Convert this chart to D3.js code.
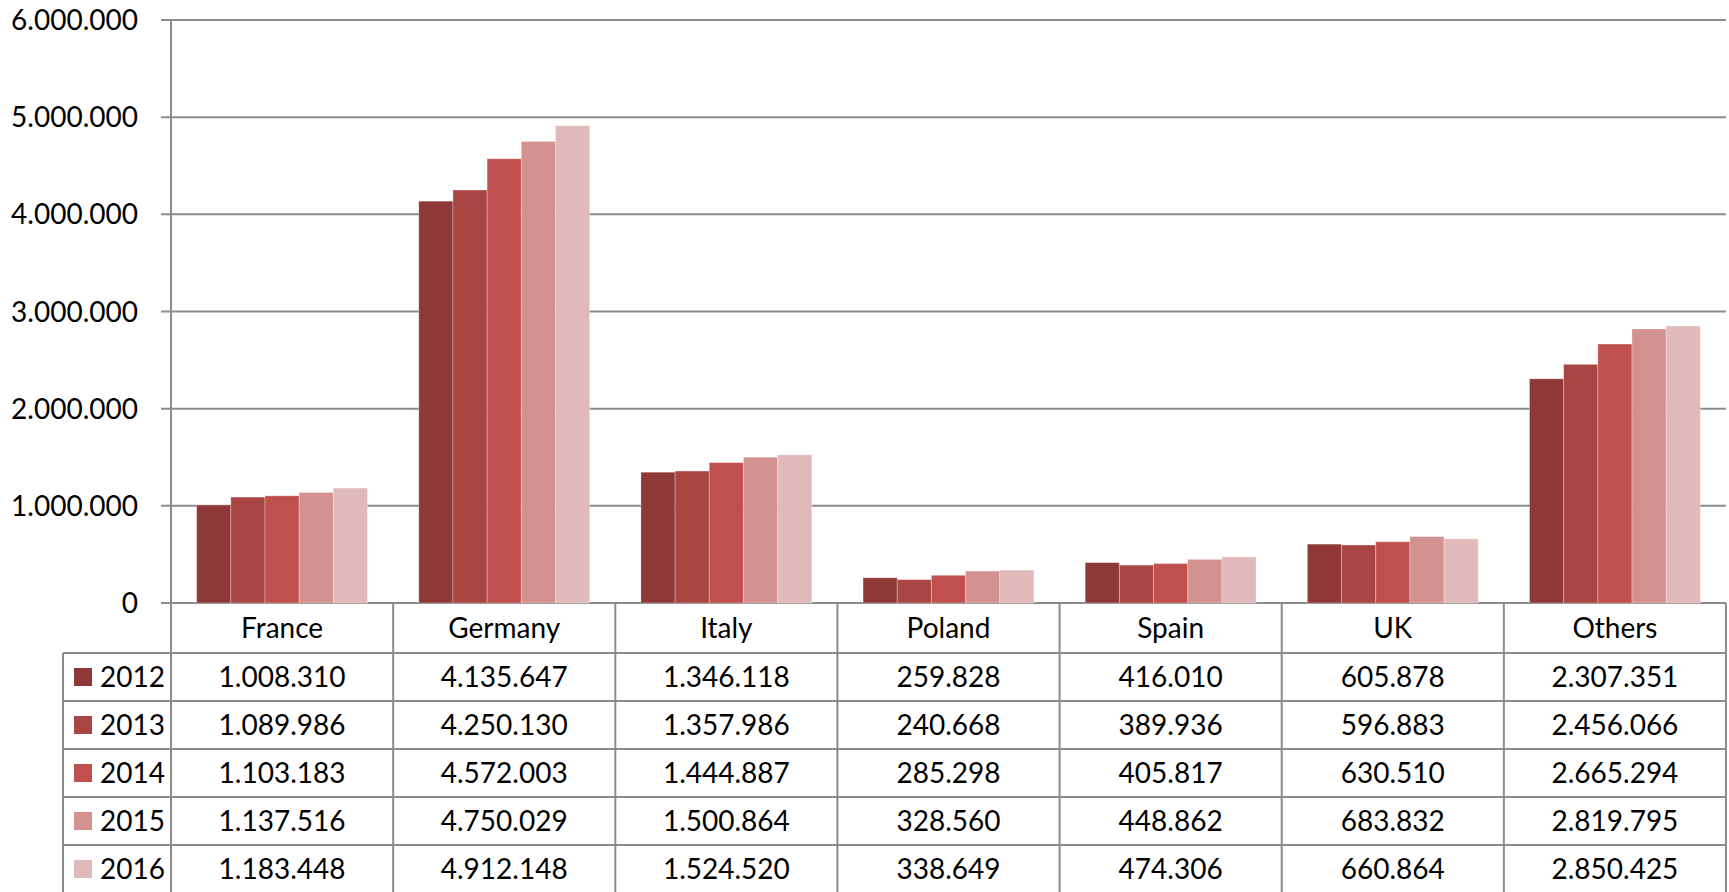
<!DOCTYPE html>
<html>
<head>
<meta charset="utf-8">
<script src="https://cdn.jsdelivr.net/npm/d3@7"></script>
<style>
  body { margin: 0; background: #fff; }
  svg { display: block; font-family: Lato, "Open Sans", sans-serif; }
</style>
</head>
<body>
<script>
// data
var countries = ["France", "Germany", "Italy", "Poland", "Spain", "UK", "Others"];
var years = ["2012", "2013", "2014", "2015", "2016"];
var v2012 = [1008310, 4135647, 1346118, 259828, 416010, 605878, 2307351];
var v2013 = [1089986, 4250130, 1357986, 240668, 389936, 596883, 2456066];
var v2014 = [1103183, 4572003, 1444887, 285298, 405817, 630510, 2665294];
var v2015 = [1137516, 4750029, 1500864, 328560, 448862, 683832, 2819795];
var v2016 = [1183448, 4912148, 1524520, 338649, 474306, 660864, 2850425];
var yTicks = [0, 1000000, 2000000, 3000000, 4000000, 5000000, 6000000];
var colors = ["#8e3937", "#a94543", "#c0504d", "#d39190", "#e0baba"];

var series = [v2012, v2013, v2014, v2015, v2016];

var W = 1729, H = 892;
var plotL = 171, plotR = 1726, plotT = 20, base = 603;
var rowH = 48, catH = 50, legL = 63;
var gridCol = "#8c8c8c";
var fs = "28px";

var fmt = function (n) { return d3.format(",")(n).replace(/,/g, "."); };

var svg = d3.select("body").append("svg")
  .attr("width", W).attr("height", H);

var x = d3.scaleBand().domain(countries).range([plotL, plotR]);
// gap width 150% -> bars take 5/(5+1.5) of the band
var inner = x.bandwidth() * 5 / 6.5;
var x1 = d3.scaleBand().domain(years).range([0, inner]);
var y = d3.scaleLinear().domain([0, 6000000]).range([base, plotT]);

// gridlines
svg.append("g").selectAll("line")
  .data(yTicks)
  .enter().append("line")
  .attr("x1", plotL - 10).attr("x2", plotR)
  .attr("y1", function (d) { return y(d); })
  .attr("y2", function (d) { return y(d); })
  .attr("stroke", gridCol).attr("stroke-width", 2);

// y labels
svg.append("g").selectAll("text")
  .data(yTicks)
  .enter().append("text")
  .attr("x", 138)
  .attr("y", function (d) { return y(d); })
  .attr("dy", "0.36em")
  .attr("text-anchor", "end")
  .style("font-size", fs)
  .text(function (d) { return fmt(d); });

// bars
var groups = svg.append("g").selectAll("g")
  .data(series)
  .enter().append("g")
  .attr("fill", function (d, i) { return colors[i]; });

groups.selectAll("rect")
  .data(function (d, i) { return d.map(function (v, j) { return { v: v, c: countries[j], yr: years[i] }; }); })
  .enter().append("rect")
  .attr("x", function (d) { return x(d.c) + (x.bandwidth() - inner) / 2 + x1(d.yr); })
  .attr("width", x1.bandwidth())
  .attr("y", function (d) { return y(d.v); })
  .attr("height", function (d) { return base - y(d.v); })
  .attr("stroke", "rgba(255,255,255,0.3)")
  .attr("stroke-width", 1);

// table
var tableBottom = base + catH + rowH * years.length;
var t = svg.append("g");

// axis line / vertical borders
t.append("line").attr("x1", plotL).attr("x2", plotL).attr("y1", plotT).attr("y2", tableBottom)
  .attr("stroke", gridCol).attr("stroke-width", 2);
t.selectAll(".vb")
  .data(countries)
  .enter().append("line")
  .attr("x1", function (d) { return x(d) + x.bandwidth(); })
  .attr("x2", function (d) { return x(d) + x.bandwidth(); })
  .attr("y1", base).attr("y2", tableBottom)
  .attr("stroke", gridCol).attr("stroke-width", 2);
t.append("line").attr("x1", legL).attr("x2", legL)
  .attr("y1", base + catH).attr("y2", tableBottom)
  .attr("stroke", gridCol).attr("stroke-width", 2);

// horizontal row lines
t.selectAll(".hb")
  .data(d3.range(years.length + 1))
  .enter().append("line")
  .attr("x1", legL).attr("x2", plotR)
  .attr("y1", function (i) { return base + catH + i * rowH; })
  .attr("y2", function (i) { return base + catH + i * rowH; })
  .attr("stroke", gridCol).attr("stroke-width", 2);

// category labels
t.selectAll(".cat")
  .data(countries)
  .enter().append("text")
  .attr("x", function (d) { return x(d) + x.bandwidth() / 2; })
  .attr("y", base + catH / 2)
  .attr("dy", "0.36em")
  .attr("text-anchor", "middle")
  .style("font-size", fs)
  .text(function (d) { return d; });

// legend + values
years.forEach(function (yr, i) {
  var cy = base + catH + i * rowH + rowH / 2;
  t.append("rect").attr("x", 74).attr("y", cy - 9).attr("width", 18).attr("height", 18)
    .attr("fill", colors[i]);
  t.append("text").attr("x", 100).attr("y", cy).attr("dy", "0.36em")
    .style("font-size", fs).text(yr);
  t.selectAll(".v" + i)
    .data(series[i])
    .enter().append("text")
    .attr("x", function (d, j) { return x(countries[j]) + x.bandwidth() / 2; })
    .attr("y", cy)
    .attr("dy", "0.36em")
    .attr("text-anchor", "middle")
    .style("font-size", fs)
    .text(function (d) { return fmt(d); });
});
</script>
</body>
</html>
